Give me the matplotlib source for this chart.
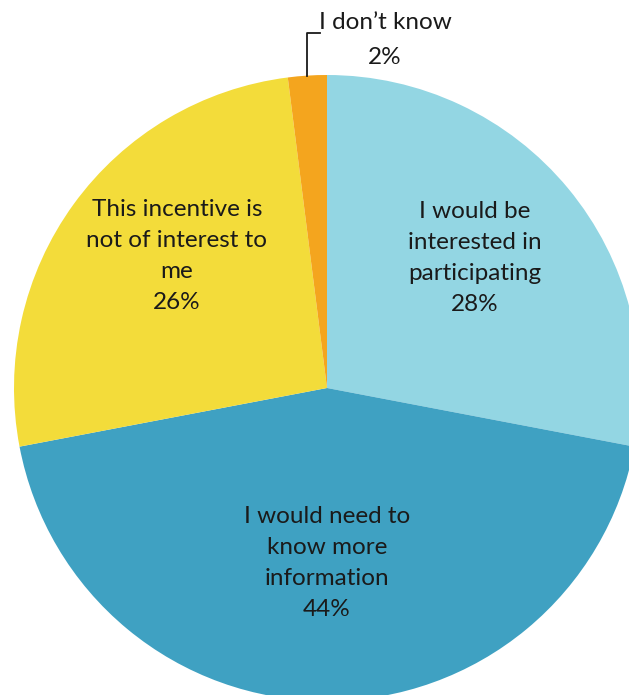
import matplotlib.pyplot as plt

labels = ["I would be\ninterested in\nparticipating", "I would need to\nknow more\ninformation",
          "This incentive is\nnot of interest to\nme", "I don\u2019t know"]
shares = [28, 44, 26, 2]
colors = ["#93d6e3", "#3fa1c2", "#f3dc3a", "#f4a51e"]

plt.rcParams["font.family"] = ["Lato", "DejaVu Sans"]

fig = plt.figure(figsize=(6.29, 6.95), dpi=100)
ax = fig.add_axes([0, 0, 1, 1])

# pixel geometry of the pie: centre (327, 388), radius 313
px = 313.0
cx, cy = 327.0, 388.0


def to_data(x, y):
    return (x - cx) / px, (cy - y) / px


ax.pie(shares, colors=colors, startangle=90, counterclock=False, radius=1.0,
       wedgeprops=dict(linewidth=0))
ax.set_xlim(-cx / px, (629 - cx) / px)
ax.set_ylim(-(695 - cy) / px, cy / px)
ax.set_aspect("auto")
ax.axis("off")

text_kw = dict(ha="center", va="center", fontsize=17.5, color="#1a1a1a", linespacing=1.6)
label_pos = [(475, 258), (327, 563), (177, 256)]
for lab, val, (x, y) in zip(labels[:3], shares[:3], label_pos):
    ax.text(*to_data(x, y), f"{lab}\n{val}%", **text_kw)

# small slice gets a leader line and an outside label
ax.plot(*zip(to_data(307, 76), to_data(307, 33), to_data(320, 33)), color="#1a1a1a", lw=1.3)
ax.text(*to_data(385, 40), f"{labels[3]}\n{shares[3]}%", **{**text_kw, "linespacing": 1.85})

fig.savefig("out.png", dpi=100)
